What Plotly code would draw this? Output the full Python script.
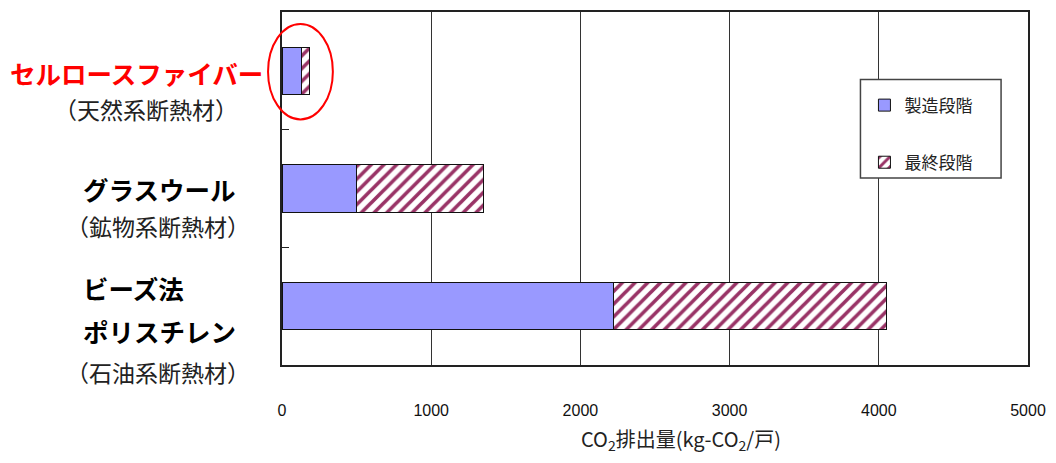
import plotly.graph_objects as go

# ---- data ----
categories = ["セルロースファイバー", "グラスウール", "ビーズ法ポリスチレン"]
label_main = [["セルロースファイバー"], ["グラスウール"], ["ビーズ法", "ポリスチレン"]]
label_sub = ["（天然系断熱材）", "（鉱物系断熱材）", "（石油系断熱材）"]
series_names = ["製造段階", "最終段階"]
manufacturing = [130, 500, 2220]   # 製造段階
final_stage = [55, 850, 1830]      # 最終段階
x_ticks = [0, 1000, 2000, 3000, 4000, 5000]
x_title = "CO<sub>2</sub>排出量(kg-CO<sub>2</sub>/戸)"

FONT = "Noto Sans CJK JP"
W, H = 1056, 463
L, R, T, B = 282, 26, 10, 98
PW, PH = W - L - R, H - T - B


def px2paper_x(px):
    return (px - L) / PW


def px2paper_y(py):
    return (H - B - py) / PH


fig = go.Figure()
fig.add_trace(go.Bar(
    y=categories, x=manufacturing, orientation="h", name=series_names[0],
    marker=dict(color="#9999FF", line=dict(color="#111", width=1)),
    width=0.4, legendgroup="a",
))
fig.add_trace(go.Bar(
    y=categories, x=final_stage, orientation="h", name=series_names[1],
    marker=dict(color="white", line=dict(color="#111", width=1),
                pattern=dict(shape="/", fgcolor="#993366", bgcolor="white",
                             fgopacity=1, size=9, solidity=0.4)),
    width=0.4, legendgroup="b",
))

annotations = []
# category labels (multi-line, left of the axis)
main_pos = [[(7, 71)], [(80, 187)], [(80, 287), (80, 330)]]
main_col = ["#FF0000", "#000000", "#000000"]
sub_pos = [(146, 108), (158, 225), (158, 372)]
for i in range(len(categories)):
    for txt, (xp, yp) in zip(label_main[i], main_pos[i]):
        annotations.append(dict(
            text="<b>" + txt + "</b>", x=px2paper_x(xp), y=px2paper_y(yp),
            xref="paper", yref="paper", xanchor="left", yanchor="middle",
            showarrow=False, font=dict(family=FONT, size=25.5, color=main_col[i]),
        ))
    xp, yp = sub_pos[i]
    annotations.append(dict(
        text=label_sub[i], x=px2paper_x(xp), y=px2paper_y(yp),
        xref="paper", yref="paper", xanchor="center", yanchor="middle",
        showarrow=False, font=dict(family=FONT, size=23, color="#222"),
    ))
# x-axis title
annotations.append(dict(
    text=x_title, x=px2paper_x(682), y=px2paper_y(440), xref="paper", yref="paper",
    xanchor="center", yanchor="middle", showarrow=False,
    font=dict(family=FONT, size=20, color="#222"),
))

shapes = [
    # red highlight ellipse
    dict(type="circle", xref="paper", yref="paper",
         x0=px2paper_x(268), x1=px2paper_x(333),
         y0=px2paper_y(118), y1=px2paper_y(22),
         line=dict(color="#FF0000", width=2), layer="above"),
    # legend frame
    dict(type="rect", xref="paper", yref="paper",
         x0=px2paper_x(862), x1=px2paper_x(1003),
         y0=px2paper_y(177), y1=px2paper_y(78),
         line=dict(color="#444", width=1.5), fillcolor="white", layer="above"),
]

fig.update_layout(
    width=W, height=H, barmode="stack",
    margin=dict(l=L, r=R, t=T, b=B),
    paper_bgcolor="white", plot_bgcolor="white",
    font=dict(family=FONT, color="#222"),
    xaxis=dict(range=[0, 5000], tickvals=x_ticks, ticktext=[str(v) for v in x_ticks],
               showgrid=True, gridcolor="#333", gridwidth=1,
               showline=True, linecolor="#222", linewidth=2, mirror=True,
               ticks="", ticklabelstandoff=30,
               tickfont=dict(family="Liberation Sans", size=16, color="#111"),
               zeroline=False),
    yaxis=dict(autorange="reversed", showticklabels=False,
               showline=True, linecolor="#222", linewidth=2, mirror=True,
               ticks="inside", tickson="boundaries", ticklen=7, tickcolor="#222",
               showgrid=False),
    legend=dict(x=px2paper_x(866), y=px2paper_y(86), xanchor="left", yanchor="top",
                bgcolor="rgba(0,0,0,0)", borderwidth=0, tracegroupgap=32,
                itemwidth=30, font=dict(family=FONT, size=17, color="#222")),
    annotations=annotations, shapes=shapes,
    bargap=0.6,
)

fig.write_html("out.html")
